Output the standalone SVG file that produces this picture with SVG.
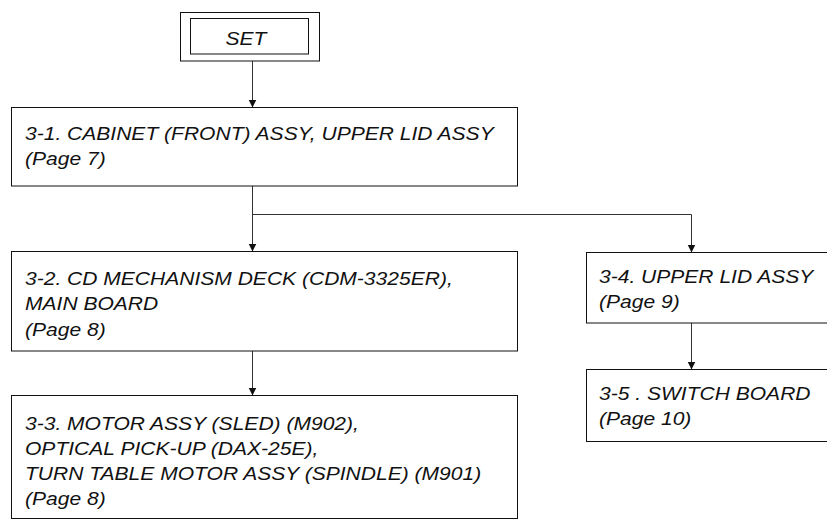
<svg xmlns="http://www.w3.org/2000/svg" width="827" height="520" viewBox="0 0 827 520">
  <style>
    .box { fill: #ffffff; stroke: #111111; stroke-width: 1; }
    .wire { fill: none; stroke: #333333; stroke-width: 1; }
    .lbl { font-family: "Liberation Sans", Arial, sans-serif; font-style: italic; font-size: 18.8px; fill: #111111; }
  </style>
  <defs>
    <marker id="arrow" markerWidth="8" markerHeight="10" refX="8" refY="5" orient="auto" markerUnits="userSpaceOnUse">
      <path d="M0,1 L8,5 L0,9 Z" fill="#111111"/>
    </marker>
  </defs>

  <!-- connectors -->
  <g id="connectors">
    <line class="wire" x1="252.5" y1="61" x2="252.5" y2="107.5" marker-end="url(#arrow)"/>
    <line class="wire" x1="252.5" y1="186" x2="252.5" y2="251.5" marker-end="url(#arrow)"/>
    <polyline class="wire" points="252.5,214.5 691.5,214.5 691.5,252.5" marker-end="url(#arrow)"/>
    <line class="wire" x1="252.5" y1="351" x2="252.5" y2="395.5" marker-end="url(#arrow)"/>
    <line class="wire" x1="691.5" y1="323" x2="691.5" y2="369.5" marker-end="url(#arrow)"/>
  </g>

  <!-- SET -->
  <g id="set">
    <rect class="box" x="180.5" y="12.5" width="139" height="48.5"/>
    <rect class="box" x="190.5" y="18.5" width="118" height="35.5"/>
    <text class="lbl" transform="translate(246 45) scale(1.12 1)" text-anchor="middle" font-size="19.5">SET</text>
  </g>

  <!-- 3-1 -->
  <g id="step-3-1">
    <rect class="box" x="11.5" y="107.5" width="506" height="78.5"/>
    <text class="lbl" transform="translate(25 140) scale(1.12 1)">
      <tspan x="0" y="0">3-1. CABINET (FRONT) ASSY, UPPER LID ASSY</tspan>
      <tspan x="0" y="25">(Page 7)</tspan>
    </text>
  </g>

  <!-- 3-2 -->
  <g id="step-3-2">
    <rect class="box" x="11.5" y="251.5" width="506" height="99.5"/>
    <text class="lbl" transform="translate(25 285) scale(1.12 1)">
      <tspan x="0" y="0">3-2. CD MECHANISM DECK (CDM-3325ER),</tspan>
      <tspan x="0" y="25.5">MAIN BOARD</tspan>
      <tspan x="0" y="51">(Page 8)</tspan>
    </text>
  </g>

  <!-- 3-3 -->
  <g id="step-3-3">
    <rect class="box" x="11.5" y="395.5" width="506" height="123"/>
    <text class="lbl" transform="translate(25 430) scale(1.12 1)">
      <tspan x="0" y="0">3-3. MOTOR ASSY (SLED) (M902),</tspan>
      <tspan x="0" y="25">OPTICAL PICK-UP (DAX-25E),</tspan>
      <tspan x="0" y="50">TURN TABLE MOTOR ASSY (SPINDLE) (M901)</tspan>
      <tspan x="0" y="75">(Page 8)</tspan>
    </text>
  </g>

  <!-- 3-4 -->
  <g id="step-3-4">
    <rect class="box" x="586.5" y="252.5" width="260" height="70.5"/>
    <text class="lbl" transform="translate(599 283) scale(1.12 1)">
      <tspan x="0" y="0">3-4. UPPER LID ASSY</tspan>
      <tspan x="0" y="25">(Page 9)</tspan>
    </text>
  </g>

  <!-- 3-5 -->
  <g id="step-3-5">
    <rect class="box" x="586.5" y="369.5" width="260" height="72"/>
    <text class="lbl" transform="translate(599 400) scale(1.12 1)">
      <tspan x="0" y="0">3-5 . SWITCH BOARD</tspan>
      <tspan x="0" y="25">(Page 10)</tspan>
    </text>
  </g>
</svg>
